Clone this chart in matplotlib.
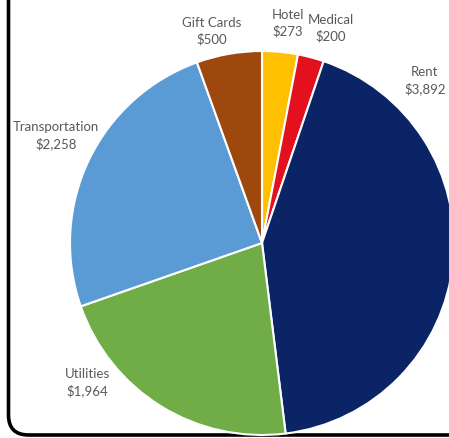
import numpy as np
import matplotlib
matplotlib.use("Agg")
import matplotlib.pyplot as plt
from matplotlib.patches import FancyBboxPatch

# data, clockwise from the top
categories = ["Hotel", "Medical", "Rent", "Utilities", "Transportation", "Gift Cards"]
amounts = [273, 200, 3892, 1964, 2258, 500]
colors = ["#FFC000", "#E3101E", "#0B2466", "#70AD47", "#5B9BD5", "#9E480E"]
# label centres in pixel coords of the picture (x, y from top)
label_pos = [(288, 23), (331, 28), (425, 81), (87, 383), (56, 136), (212, 31)]

W, H = 449, 438
fig = plt.figure(figsize=(W / 100, H / 100), dpi=100)
ax = fig.add_axes([0, 0, 1, 1])
ax.set_xlim(0, W)
ax.set_ylim(0, H)
ax.set_aspect("equal")
ax.axis("off")

# rounded frame, mostly outside the picture
frame = FancyBboxPatch((8.5, 3), 1000, 1000,
                       boxstyle="round,pad=0,rounding_size=20",
                       fill=False, edgecolor="black", linewidth=2.6, zorder=1)
ax.add_patch(frame)

cx, cy, r = 262, H - 243, 192
ax.pie(amounts, colors=colors, startangle=90, counterclock=False,
       center=(cx, cy), radius=r, frame=True,
       wedgeprops=dict(edgecolor="white", linewidth=1.5, zorder=2))
ax.set_xlim(0, W)
ax.set_ylim(0, H)
ax.axis("off")

for name, val, (px, py) in zip(categories, amounts, label_pos):
    ax.text(px, H - py, "{}\n${:,}".format(name, val), ha="center", va="center",
            fontsize=9.5, family="Lato", color="#595959", linespacing=1.4, zorder=3)

fig.savefig("out.png", dpi=100)
